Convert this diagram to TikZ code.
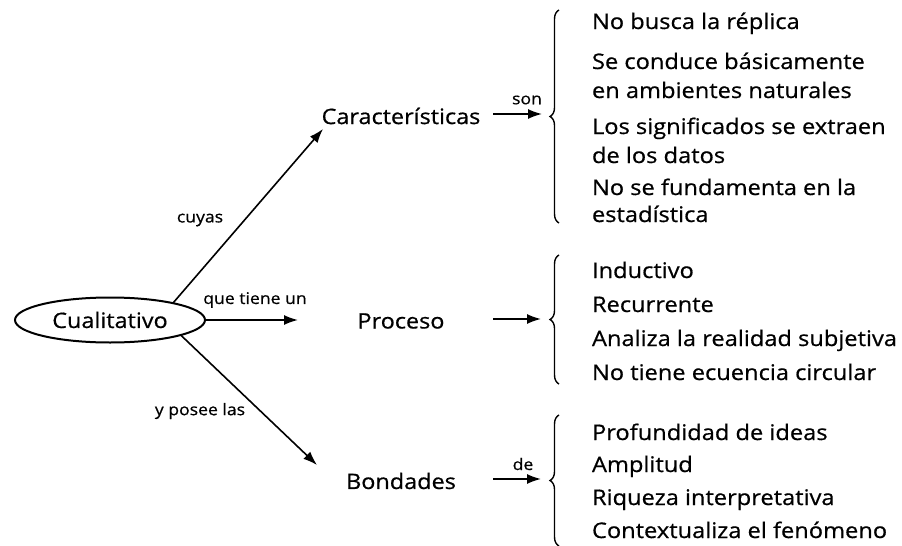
\documentclass[tikz,border=0pt]{standalone}
\usepackage{fontspec}
\setmainfont{Open Sans}[FakeStretch=1.1,FakeBold=0.6]
\usetikzlibrary{arrows.meta,decorations.pathreplacing,shapes.geometric}
\begin{document}
\begin{tikzpicture}[x=1pt,y=-1pt,
  every node/.style={inner sep=0pt,outer sep=0pt},
  main/.style={font=\fontsize{21.3}{24}\selectfont},
  item/.style={font=\fontsize{21.5}{24}\selectfont,anchor=base west},
  lbl/.style={font=\fontsize{16}{18}\selectfont},
  arr/.style={line width=1.6pt,-{Latex[length=14pt,width=10pt]}},
  brc/.style={line width=1.4pt,decorate,decoration={brace,amplitude=9pt,aspect=0.5}}]
\useasboundingbox (0,0) rectangle (902,546);
\node[ellipse,draw,line width=2pt,minimum width=190pt,minimum height=45pt,main] (cual) at (110,320) {Cualitativo};
\node[main] (car) at (401,116) {Características};
\node[main] (pro) at (401,321) {Proceso};
\node[main] (bon) at (401,481) {Bondades};
% connectors from the ellipse
\coordinate (carin) at (323,129);
\coordinate (proin) at (298,320);
\coordinate (bonin) at (317,465);
\draw[arr] (cual.15) -- (carin);
\draw[arr] (cual.east) -- (proin);
\draw[arr] (cual.-12) -- (bonin);
\node[lbl] (lcuyas) at (200,220) {cuyas};
\node[lbl] (lque) at (255,300) {que tiene un};
\node[lbl] (lypos) at (200,411) {y posee las};
% braces
\coordinate (b1b) at (559,223); \coordinate (b1t) at (559,10);
\coordinate (b2b) at (559,384); \coordinate (b2t) at (559,255);
\coordinate (b3b) at (559,546); \coordinate (b3t) at (559,415);
\draw[brc] (b1b) -- (b1t);
\draw[brc] (b2b) -- (b2t);
\draw[brc] (b3b) -- (b3t);
% short arrows
\coordinate (s1) at (493,114); \coordinate (e1) at (542,114);
\coordinate (s2) at (493,319); \coordinate (e2) at (541,319);
\coordinate (s3) at (493,479); \coordinate (e3) at (541,479);
\draw[arr] (s1) -- (e1);
\draw[arr] (s2) -- (e2);
\draw[arr] (s3) -- (e3);
\node[lbl] (lson) at (527,100) {son};
\node[lbl] (lde) at (523,464) {de};
% items (baselines)
\node[item] (i1) at (592,29) {No busca la réplica};
\node[item] (i2) at (592,69) {Se conduce básicamente};
\node[item] (i3) at (592,98) {en ambientes naturales};
\node[item] (i4) at (592,134) {Los significados se extraen};
\node[item] (i5) at (592,163) {de los datos};
\node[item] (i6) at (592,195) {No se fundamenta en la};
\node[item] (i7) at (592,222) {estadística};
\node[item] (p1) at (592,278) {Inductivo};
\node[item] (p2) at (592,312) {Recurrente};
\node[item] (p3) at (592,346) {Analiza la realidad subjetiva};
\node[item] (p4) at (592,380) {No tiene ecuencia circular};
\node[item] (q1) at (592,440) {Profundidad de ideas};
\node[item] (q2) at (592,472) {Amplitud};
\node[item] (q3) at (592,505) {Riqueza interpretativa};
\node[item] (q4) at (592,538) {Contextualiza el fenómeno};
\end{tikzpicture}
\end{document}
